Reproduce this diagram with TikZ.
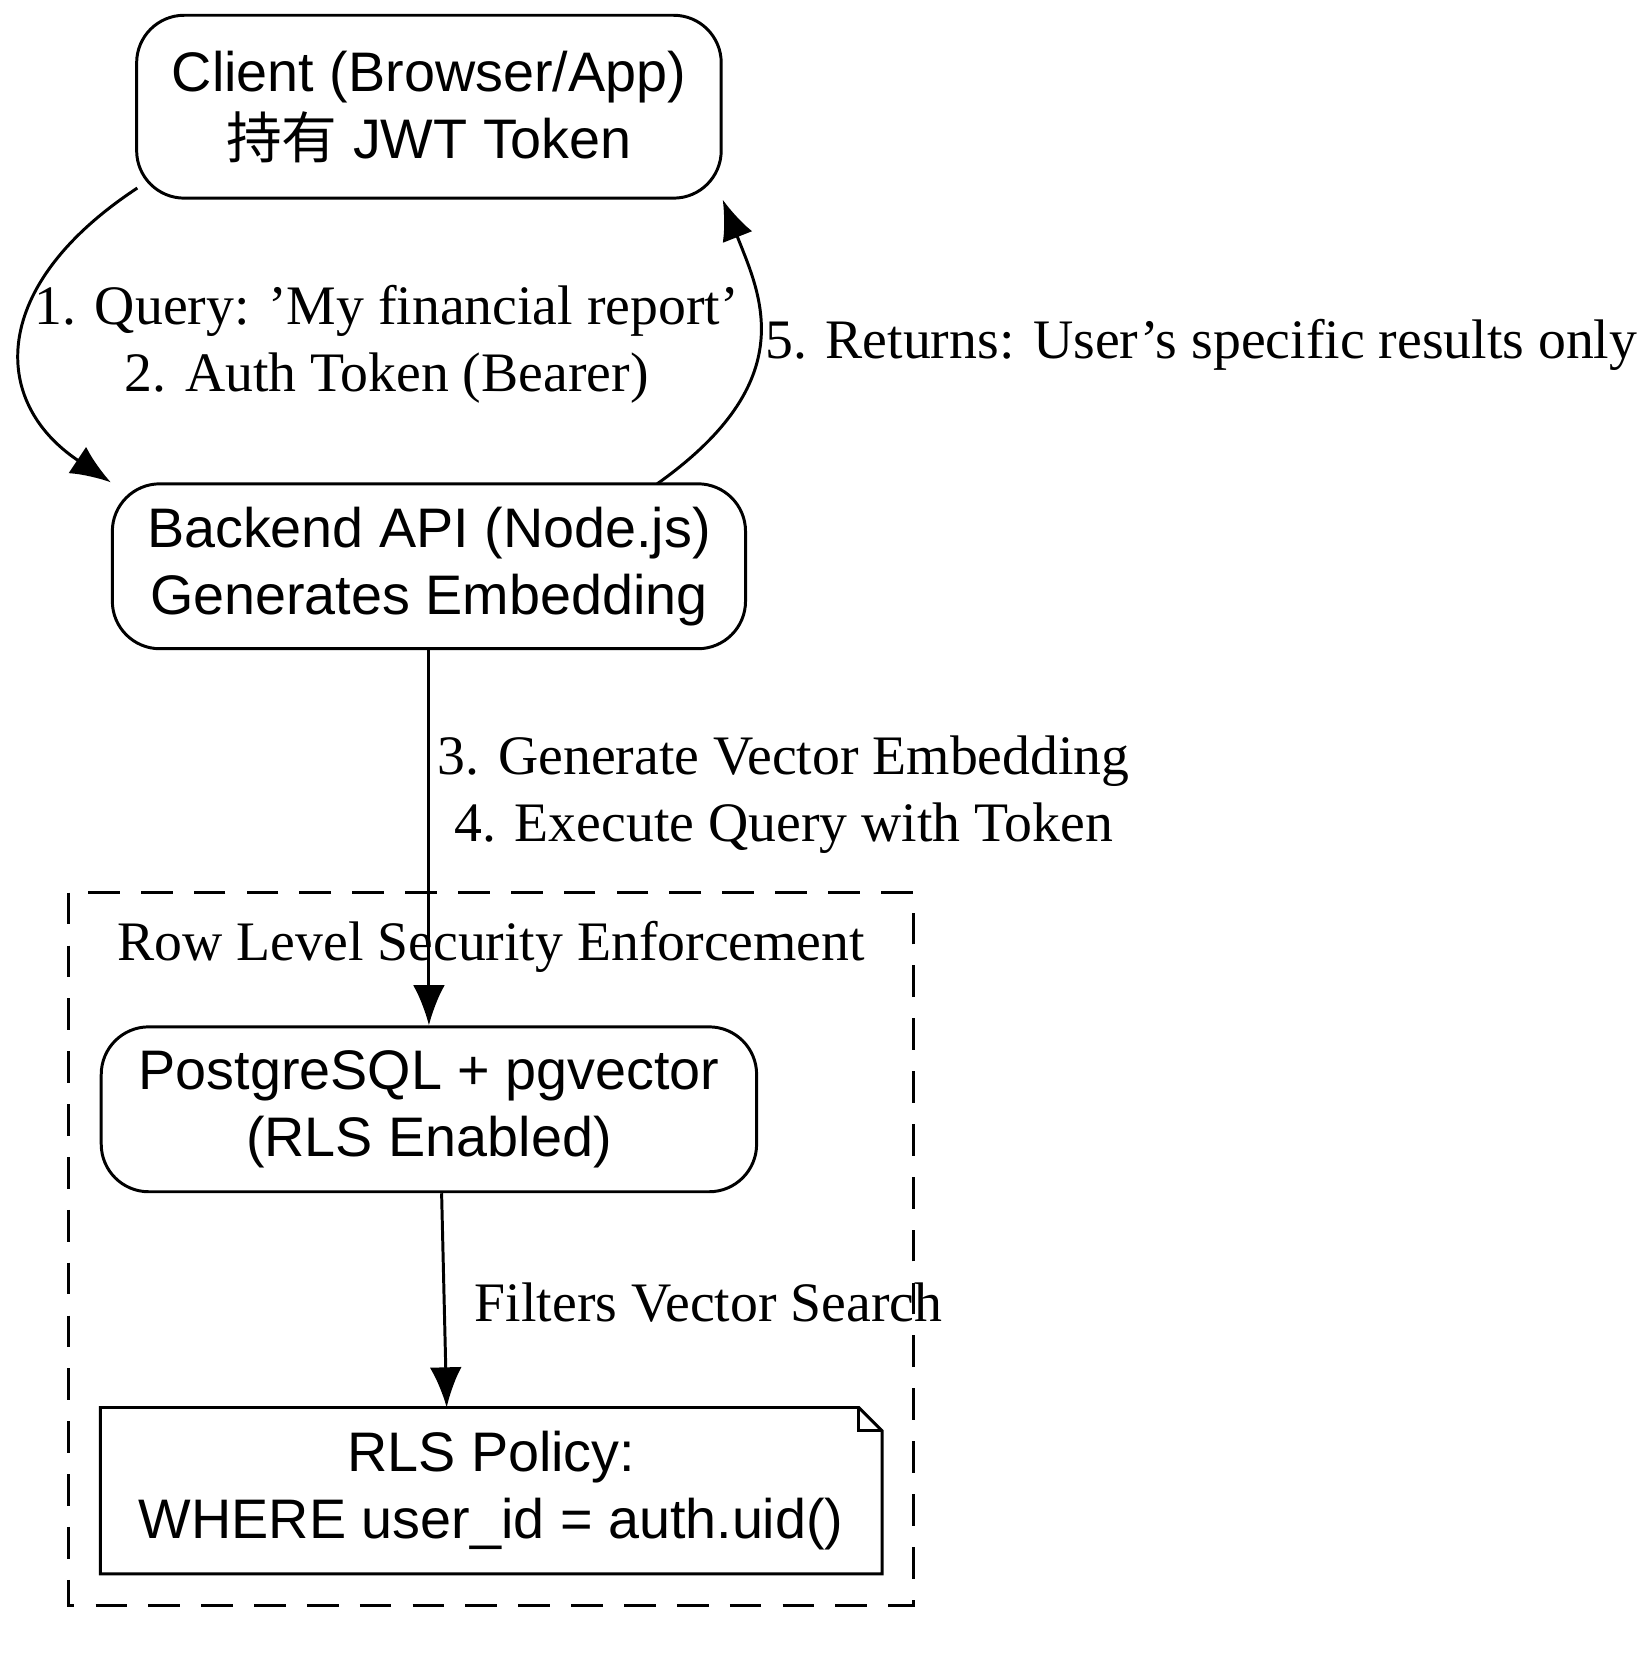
\documentclass[tikz,border=0pt]{standalone}
\usepackage{fontspec}
\setmainfont{Liberation Serif}
\setsansfont{Liberation Sans}
\newfontfamily\cjk{Noto Sans CJK SC}
\usetikzlibrary{arrows.meta}

\begin{document}
\begin{tikzpicture}[x=0.01cm, y=-0.01cm,
    box/.style={draw, thick, rounded corners=0.45cm, align=center, font=\sffamily\fontsize{15}{18}\selectfont, inner sep=0pt},
    lbl/.style={align=center, font=\fontsize{15}{18}\selectfont},
    flow/.style={thick, -{Latex[length=0.38cm, width=0.3cm]}}]
        \useasboundingbox (0,0) rectangle (1560,1576);

        % cluster
        \draw[thick, dash pattern=on 0.3cm off 0.2cm] (65,845) rectangle (865,1520);
        \node[lbl] (cl) at (465,896) {Row Level Security Enforcement};

        \node[box, minimum width=5.53cm, minimum height=1.73cm] (client) at (406,101) {Client (Browser/App)\\{\cjk 持有} JWT Token};
        \node[box, minimum width=5.99cm, minimum height=1.56cm] (api) at (406,536) {Backend API (Node.js)\\Generates Embedding};
        \node[box, minimum width=6.2cm, minimum height=1.56cm] (db) at (406,1050) {PostgreSQL + pgvector\\(RLS Enabled)};
        \node[align=center, font=\sffamily\fontsize{15}{18}\selectfont, minimum width=7.38cm, minimum height=1.56cm] (rls) at (465,1411) {RLS Policy:\\WHERE user\_id = auth.uid()};
        \draw[thick] (rls.south west) -- (rls.north west) -- ([xshift=-0.22cm]rls.north east)
            -- ([yshift=-0.22cm]rls.north east) -- (rls.south east) -- cycle;
        \draw[thick] ([xshift=-0.22cm]rls.north east) |- ([yshift=-0.22cm]rls.north east);

        \draw[flow] (130,178) .. controls (-10,270) and (-10,380) .. (api.north west);
        \draw[flow] (622,458) .. controls (760,360) and (720,280) .. (client.south east);
        \draw[flow] (api) -- (db);
        \draw[flow] (db.south) ++(12,0) -- ([xshift=-12]rls.north);

        \node[lbl] (q) at (366,326) {1. Query: 'My financial report'\\2. Auth Token (Bearer)};
        \node[lbl, anchor=west] (ret) at (712,326) {5. Returns: User's specific results only};
        \node[lbl, anchor=west] (gen) at (402,752) {3. Generate Vector Embedding\\4. Execute Query with Token};
        \node[lbl, anchor=west] (filt) at (437,1233) {Filters Vector Search};
    \end{tikzpicture}
\end{document}
